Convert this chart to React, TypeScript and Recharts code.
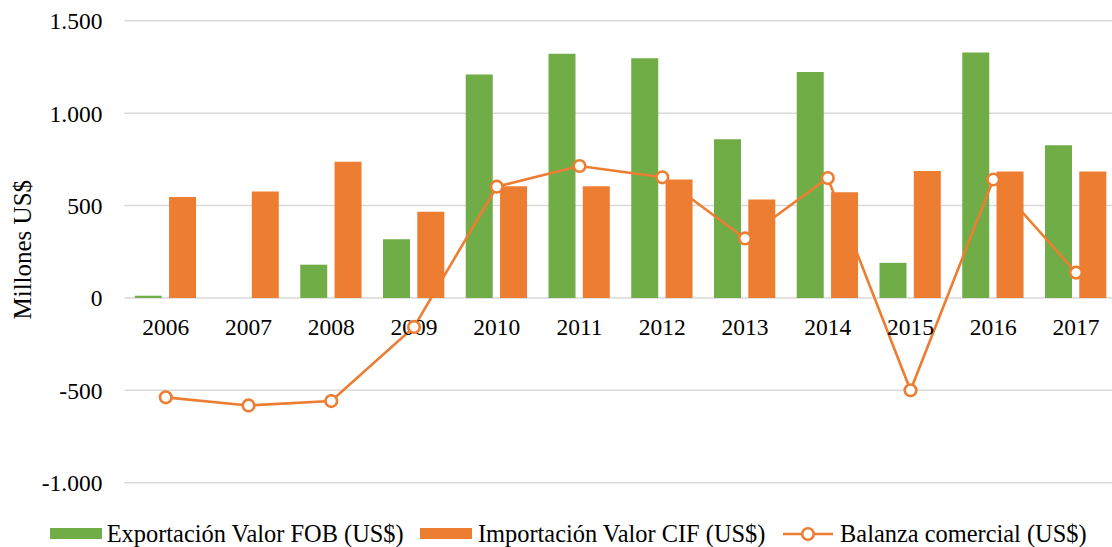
import React from 'react';
import {
  ComposedChart,
  Bar,
  Line,
  XAxis,
  YAxis,
  CartesianGrid,
  Legend,
  ReferenceDot,
  Label,
} from 'recharts';

const years = ['2006', '2007', '2008', '2009', '2010', '2011', '2012', '2013', '2014', '2015', '2016', '2017'];
const exportValues = [12, 0, 180, 317, 1210, 1322, 1297, 859, 1223, 190, 1328, 826];
const importValues = [547, 576, 737, 467, 605, 605, 641, 533, 572, 687, 685, 685];
const balanceValues = [-538, -582, -558, -157, 602, 714, 653, 322, 649, -500, 641, 137];
const yTicks = [-1000, -500, 0, 500, 1000, 1500];

const seriesNames = {
  exportacion: 'Exportación Valor FOB (US$)',
  importacion: 'Importación Valor CIF (US$)',
  balanza: 'Balanza comercial (US$)',
};

const GREEN = '#70AD47';
const ORANGE = '#ED7D31';
const FONT = "'Liberation Serif', 'Times New Roman', serif";
const FS = 23.5;
const LFS = 24.4;

const data = years.map((year, i) => ({
  year,
  exportacion: exportValues[i],
  importacion: importValues[i],
  balanza: balanceValues[i],
}));

const fmt = (v: number) => {
  const s = Math.abs(v).toString().replace(/\B(?=(\d{3})+(?!\d))/g, '.');
  return v < 0 ? '-' + s : s;
};

const YLabel = (props: any) => {
  const vb = props.viewBox || {};
  const cy = vb.y + vb.height / 2 - 2;
  const cx = 23;
  return (
    <text
      x={cx}
      y={cy}
      transform={`rotate(-90, ${cx}, ${cy})`}
      textAnchor="middle"
      dominantBaseline="central"
      fontFamily={FONT}
      fontSize={25}
      fill="#000"
    >
      {props.value}
    </text>
  );
};

const makeYearLabel = (text: string) => (props: any) => {
  const vb = props.viewBox || {};
  return (
    <text
      x={vb.x + (vb.width || 0) / 2}
      y={vb.y + 29}
      textAnchor="middle"
      dominantBaseline="central"
      fontFamily={FONT}
      fontSize={FS}
      fill="#000"
    >
      {text}
    </text>
  );
};

const LegendContent = () => (
  <div
    style={{
      display: 'flex',
      alignItems: 'center',
      paddingLeft: 50,
      fontFamily: FONT,
      fontSize: LFS,
      color: '#000',
      height: 30,
      whiteSpace: 'nowrap',
    }}
  >
    <span style={{ display: 'inline-block', width: 51.7, height: 11.6, background: GREEN, marginRight: 5 }} />
    <span style={{ marginRight: 16.6 }}>{seriesNames.exportacion}</span>
    <span style={{ display: 'inline-block', width: 51.7, height: 11.6, background: ORANGE, marginRight: 6 }} />
    <span style={{ marginRight: 18 }}>{seriesNames.importacion}</span>
    <svg width={50} height={16} style={{ marginRight: 6.7 }}>
      <line x1={0} y1={8} x2={50} y2={8} stroke={ORANGE} strokeWidth={2.6} />
      <circle cx={25} cy={8} r={5.8} fill="#fff" stroke={ORANGE} strokeWidth={2.6} />
    </svg>
    <span>{seriesNames.balanza}</span>
  </div>
);

export default function App() {
  return (
    <div style={{ position: 'absolute', left: 0, top: 0, width: 1112, height: 547, overflow: 'hidden', background: '#fff' }}>
      <ComposedChart
        width={1125.4}
        height={547}
        data={data}
        margin={{ top: 20.8, right: 8, bottom: 64.3, left: 0 }}
        barCategoryGap={10.35}
        barGap={7.3}
      >
        <CartesianGrid vertical={false} stroke="#d9d9d9" strokeWidth={1.5} />
        <XAxis dataKey="year" hide />
        <YAxis
          width={124.4}
          domain={[-1000, 1500]}
          ticks={yTicks}
          tickFormatter={fmt}
          axisLine={false}
          tickLine={false}
          tickMargin={16}
          tick={{ fill: '#000', fontSize: FS, fontFamily: FONT }}
          interval={0}
        >
          <Label value="Millones US$" content={YLabel} />
        </YAxis>
        <Bar dataKey="exportacion" name={seriesNames.exportacion} fill={GREEN} isAnimationActive={false} />
        <Bar dataKey="importacion" name={seriesNames.importacion} fill={ORANGE} isAnimationActive={false} />
        <Line
          type="linear"
          dataKey="balanza"
          name={seriesNames.balanza}
          stroke={ORANGE}
          strokeWidth={2.6}
          dot={{ r: 5.8, fill: '#fff', stroke: ORANGE, strokeWidth: 2.6 }}
          activeDot={false}
          isAnimationActive={false}
        />
        {years.map((y) => (
          <ReferenceDot
            key={y}
            x={y}
            y={0}
            r={0}
            fill="none"
            stroke="none"
            label={makeYearLabel(y)}
          />
        ))}
        <Legend
          layout="horizontal"
          verticalAlign="middle"
          align="center"
          content={LegendContent}
          wrapperStyle={{ top: 518.5, left: 0, width: 1112 }}
        />
      </ComposedChart>
    </div>
  );
}
